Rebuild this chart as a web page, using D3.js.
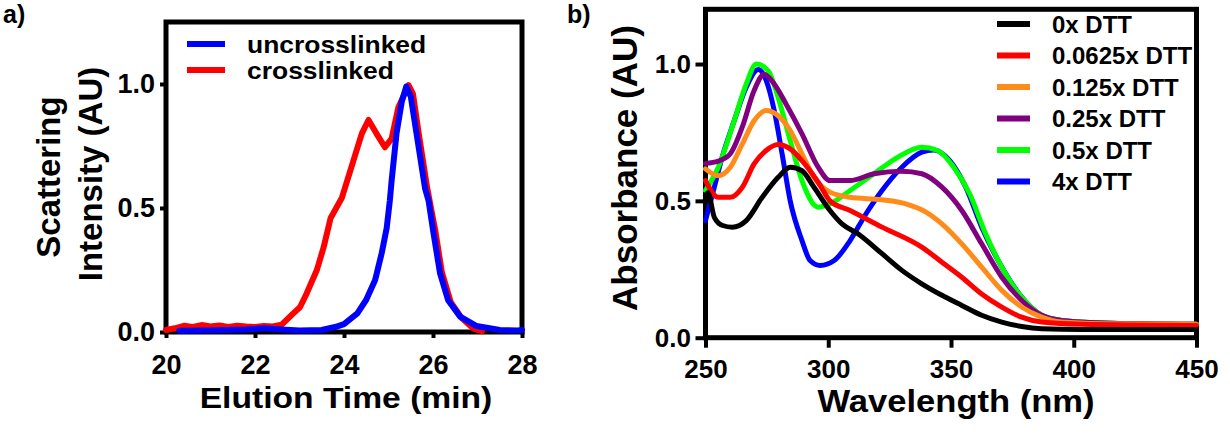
<!DOCTYPE html>
<html lang="en">
<head>
<meta charset="UTF-8">
<title>Scattering and absorbance</title>
<script src="https://d3js.org/d3.v7.min.js"></script>
<style>
  body { margin: 0; background: #fff; }
  svg { display: block; font-family: "Liberation Sans", Arial, sans-serif; font-weight: bold; }
  .axis path { display: none; }
  .axis line { stroke: #000; stroke-width: 4; }
  .axis text { fill: #000; font-weight: bold; }
  .frame { fill: none; stroke: #000; stroke-width: 5; }
  .series { fill: none; stroke-linejoin: round; stroke-linecap: round; }
</style>
</head>
<body>
<svg id="chart" width="1230" height="441"></svg>
<script>
// ---- panel a: elution profiles (time in min, normalised intensity)
const elutionTicks = [20, 22, 24, 26, 28];
const intensityTicks = [0, 0.5, 1.0];
const uncrosslinked = [
  [20.3, 0.005], [20.8, 0.006], [21.3, 0.008], [21.8, 0.010], [22.2, 0.015], [22.6, 0.010],
  [23.0, 0.006], [23.5, 0.008], [23.8, 0.020], [24.0, 0.032], [24.3, 0.075], [24.5, 0.13],
  [24.7, 0.21], [24.85, 0.32], [24.96, 0.42], [25.03, 0.53], [25.07, 0.61], [25.18, 0.80],
  [25.3, 0.93], [25.4, 0.99], [25.5, 0.95], [25.63, 0.80], [25.82, 0.58], [25.9, 0.53],
  [26.01, 0.40], [26.16, 0.235], [26.34, 0.128], [26.61, 0.062], [26.98, 0.024], [27.5, 0.008],
  [27.9, 0.006], [28.0, 0.008]
];
const crosslinked = [
  [20.0, 0.008], [20.2, 0.015], [20.4, 0.025], [20.6, 0.020], [20.8, 0.028], [21.0, 0.022],
  [21.2, 0.026], [21.4, 0.020], [21.6, 0.025], [21.8, 0.022], [22.0, 0.020], [22.2, 0.024],
  [22.4, 0.022], [22.6, 0.030], [22.86, 0.075], [23.01, 0.10], [23.16, 0.155], [23.39, 0.25],
  [23.54, 0.34], [23.7, 0.46], [23.95, 0.54], [24.21, 0.69], [24.4, 0.80], [24.55, 0.855],
  [24.73, 0.80], [24.92, 0.745], [25.07, 0.78], [25.22, 0.905], [25.45, 0.995], [25.55, 0.96],
  [25.68, 0.80], [25.87, 0.58], [26.05, 0.41], [26.2, 0.24], [26.4, 0.12], [26.65, 0.055],
  [26.9, 0.015], [27.1, 0.003]
];
const elutionSeries = [
  { name: "uncrosslinked", color: "#0000ff", values: uncrosslinked },
  { name: "crosslinked", color: "#ff0000", values: crosslinked }
];

// ---- panel b: absorbance spectra (wavelength in nm)
const wavelengthTicks = [250, 300, 350, 400, 450];
const absorbanceTicks = [0, 0.5, 1.0];
const dtt0 = [
  [250, 0.52], [251, 0.53], [253.6, 0.44], [257, 0.41], [260.9, 0.404], [266.6, 0.428], [273.1, 0.513],
  [279.6, 0.586], [284.5, 0.623], [289.3, 0.61], [294.2, 0.55], [300.7, 0.465], [305.6, 0.416],
  [312.1, 0.38], [321.9, 0.307], [330, 0.246], [338.1, 0.197], [346.3, 0.155], [354.4, 0.118],
  [362.5, 0.082], [370.7, 0.057], [378.8, 0.041], [386.9, 0.033], [403.2, 0.03], [450, 0.03]
];
const dtt0625 = [
  [250, 0.574], [255.2, 0.513], [260.1, 0.513], [265, 0.55], [269.8, 0.635], [274.7, 0.684],
  [279.6, 0.706], [284.5, 0.69], [289.3, 0.647], [295.9, 0.568], [300.7, 0.50], [308.9, 0.465],
  [321.9, 0.404], [338.1, 0.331], [346.3, 0.276], [354.4, 0.221], [362.5, 0.16], [370.7, 0.112],
  [378.8, 0.075], [386.9, 0.057], [403.2, 0.049], [450, 0.045]
];
const dtt125 = [
  [250, 0.617], [255.2, 0.592], [260.1, 0.623], [265, 0.708], [269.8, 0.793], [274.7, 0.83],
  [279.6, 0.811], [284.5, 0.757], [289.3, 0.672], [294.2, 0.586], [300.7, 0.532], [308.9, 0.513],
  [321.9, 0.504], [331.6, 0.489], [339.8, 0.459], [346.3, 0.416], [354.4, 0.343], [362.5, 0.258],
  [370.7, 0.173], [378.8, 0.112], [386.9, 0.075], [395, 0.057], [411.3, 0.051], [450, 0.049]
];
const dtt25 = [
  [250, 0.637], [255.2, 0.645], [260.1, 0.672], [265, 0.77], [269.8, 0.903], [273.9, 0.963],
  [278, 0.927], [282.8, 0.854], [289.3, 0.745], [295.9, 0.623], [300.7, 0.574], [308.9, 0.574],
  [318.6, 0.599], [330, 0.608], [338.1, 0.599], [346.3, 0.55], [354.4, 0.465], [362.5, 0.343],
  [370.7, 0.221], [378.8, 0.136], [386.9, 0.082], [395, 0.063], [411.3, 0.054], [450, 0.049]
];
const dtt5 = [
  [250, 0.538], [255.2, 0.623], [261.7, 0.793], [266.6, 0.927], [270.7, 1.0], [275.5, 0.976],
  [279.6, 0.878], [284.5, 0.72], [289.3, 0.574], [295.9, 0.477], [300.7, 0.489], [308.9, 0.538],
  [318.6, 0.599], [328.4, 0.66], [338.1, 0.696], [344.6, 0.684], [351.1, 0.623], [357.6, 0.526],
  [364.1, 0.38], [370.7, 0.258], [378.8, 0.148], [386.9, 0.082], [395, 0.063], [411.3, 0.054],
  [450, 0.049]
];
const dtt4 = [
  [250, 0.428], [253.6, 0.55], [256.8, 0.66], [261.7, 0.793], [266.6, 0.915], [271.5, 0.98],
  [274.7, 0.94], [278, 0.83], [281.2, 0.672], [284.5, 0.50], [289.3, 0.355], [292.6, 0.282],
  [296.7, 0.264], [302.4, 0.282], [308.9, 0.355], [315.4, 0.453], [321.9, 0.538], [330, 0.623],
  [338.1, 0.678], [343, 0.686], [349.5, 0.647], [356, 0.55], [362.5, 0.404], [370.7, 0.258],
  [378.8, 0.148], [386.9, 0.082], [395, 0.063], [411.3, 0.054], [450, 0.049]
];
const spectra = [
  { name: "0x DTT", color: "#000000", values: dtt0 },
  { name: "0.0625x DTT", color: "#ff0000", values: dtt0625 },
  { name: "0.125x DTT", color: "#ff8c1a", values: dtt125 },
  { name: "0.25x DTT", color: "#800080", values: dtt25 },
  { name: "0.5x DTT", color: "#00ff00", values: dtt5 },
  { name: "4x DTT", color: "#0000ff", values: dtt4 }
];

const svg = d3.select("#chart");
const fmt = d3.format(".1f");

// draws the box, both axes and returns the scales
function frame(g, o) {
  const x = d3.scaleLinear().domain(o.xDomain).range([o.left, o.right]);
  const y = d3.scaleLinear().domain(o.yDomain).range([o.bottom, o.top]);

  g.append("g").attr("class", "axis")
    .attr("transform", `translate(0,${o.bottom})`)
    .style("font-size", o.tickFont + "px")
    .call(d3.axisBottom(x).tickValues(o.xTicks).tickSize(o.tick).tickPadding(o.xPad).tickSizeOuter(0));

  g.append("g").attr("class", "axis")
    .attr("transform", `translate(${o.left},0)`)
    .style("font-size", o.tickFont + "px")
    .call(d3.axisLeft(y).tickValues(o.yTicks).tickFormat(fmt).tickSize(o.tick).tickPadding(o.yPad).tickSizeOuter(0));

  g.append("rect").attr("class", "frame")
    .attr("x", o.left).attr("y", o.top)
    .attr("width", o.right - o.left).attr("height", o.bottom - o.top);

  return { x, y };
}

// text that is a bit wider than the font draws it
function wideText(g, x, y, size, sx, anchor, str) {
  return g.append("text")
    .attr("transform", `translate(${x},${y}) scale(${sx},1)`)
    .attr("text-anchor", anchor)
    .style("font-size", size + "px")
    .text(str);
}

// ---- panel a
const ga = svg.append("g");
const a = frame(ga, {
  left: 166, right: 522, top: 22, bottom: 332,
  xDomain: [20, 28], yDomain: [0, 1.25],
  xTicks: elutionTicks, yTicks: intensityTicks,
  tick: 6, xPad: 17, yPad: 5, tickFont: 27
});

const lineA = d3.line().x(d => a.x(d[0])).y(d => a.y(d[1]));
ga.selectAll(".series")
  .data(elutionSeries.slice().reverse())
  .join("path")
  .attr("class", "series")
  .attr("stroke", d => d.color)
  .attr("stroke-width", 6)
  .attr("d", d => lineA(d.values));

const legA = ga.append("g");
elutionSeries.forEach((s, i) => {
  const yy = 44 + i * 26;
  legA.append("line").attr("x1", 187).attr("x2", 225).attr("y1", yy).attr("y2", yy)
    .attr("stroke", s.color).attr("stroke-width", 6);
  wideText(legA, 247, yy + 9, 23, 1.15, "start", s.name);
});

wideText(ga, 346, 408, 29, 1.16, "middle", "Elution Time (min)");
ga.append("text").attr("transform", "translate(60,177) rotate(-90)").attr("text-anchor", "middle")
  .style("font-size", "33px").text("Scattering");
ga.append("text").attr("transform", "translate(102,174) rotate(-90)").attr("text-anchor", "middle")
  .style("font-size", "33px").text("Intensity (AU)");
ga.append("text").attr("x", 3).attr("y", 23).style("font-size", "25px").text("a)");

// ---- panel b
const gb = svg.append("g");
const b = frame(gb, {
  left: 705.5, right: 1196.5, top: 9.3, bottom: 337.7,
  xDomain: [250, 450], yDomain: [0, 1.2],
  xTicks: wavelengthTicks, yTicks: absorbanceTicks,
  tick: 10, xPad: 11.5, yPad: 4.5, tickFont: 26
});

const lineB = d3.line().curve(d3.curveMonotoneX).x(d => b.x(d[0])).y(d => b.y(d[1]));
gb.selectAll(".series")
  .data(spectra.slice().reverse())
  .join("path")
  .attr("class", "series")
  .attr("stroke", d => d.color)
  .attr("stroke-width", 5)
  .attr("d", d => lineB(d.values));

const legB = gb.append("g");
spectra.forEach((s, i) => {
  const yy = 24 + i * 31.5;
  legB.append("line").attr("x1", 997).attr("x2", 1030).attr("y1", yy).attr("y2", yy)
    .attr("stroke", s.color).attr("stroke-width", 6);
  legB.append("text").attr("x", 1052).attr("y", yy + 8.5).style("font-size", "24px").text(s.name);
});

wideText(gb, 956, 411.5, 31, 1.115, "middle", "Wavelength (nm)");
gb.append("text").attr("transform", "translate(637,168) rotate(-90)").attr("text-anchor", "middle")
  .style("font-size", "35px").text("Absorbance (AU)");
gb.append("text").attr("x", 567).attr("y", 23).style("font-size", "25px").text("b)");
</script>
</body>
</html>
